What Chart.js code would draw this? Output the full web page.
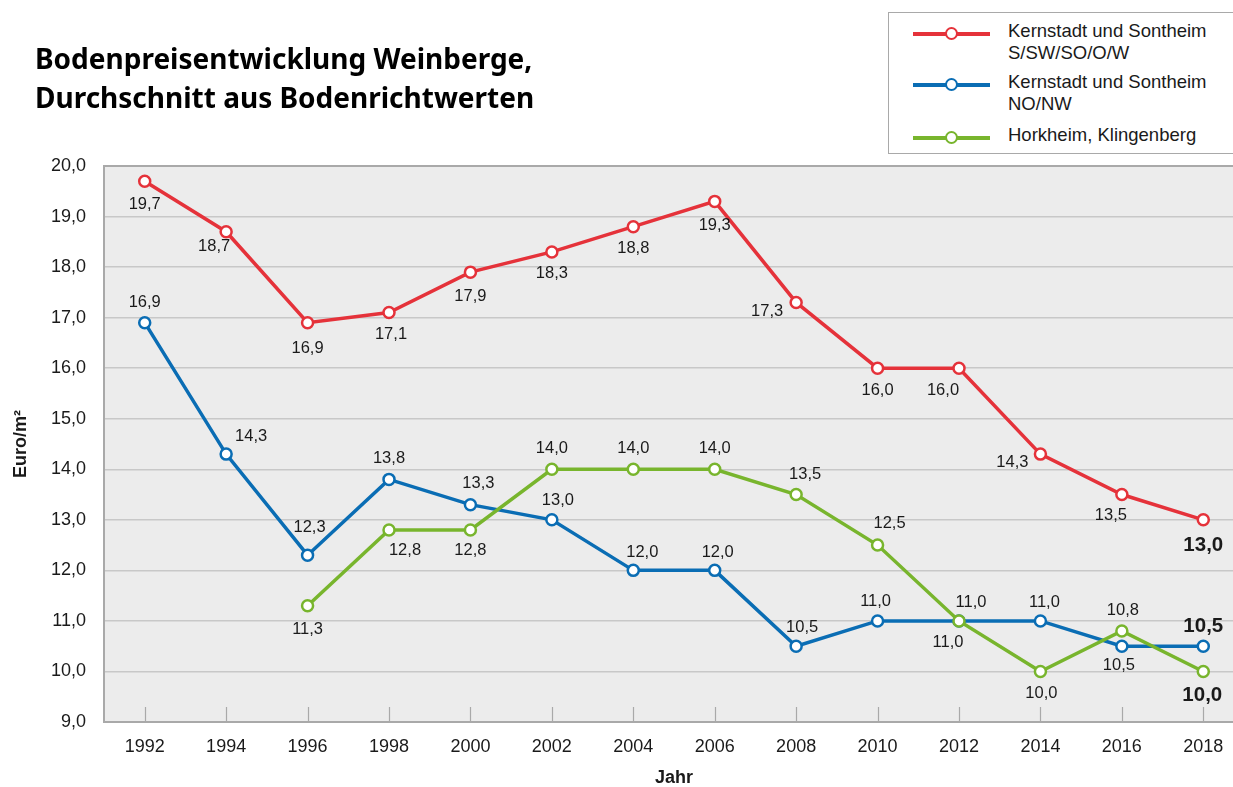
<!DOCTYPE html>
<html lang="de">
<head>
<meta charset="utf-8">
<title>Bodenpreisentwicklung Weinberge</title>
<script src="https://cdn.jsdelivr.net/npm/chart.js@4.4.1/dist/chart.umd.min.js"></script>
<style>
  html, body { margin: 0; padding: 0; background: #fff; overflow: hidden; }
  #wrap { position: relative; width: 1233px; height: 787px; overflow: hidden; }
  #myChart { position: absolute; left: 0; top: 0; }
  #title {
    position: absolute; left: 35px; top: 39px;
    font-family: "Noto Sans", sans-serif; font-weight: 700; font-size: 28px;
    line-height: 39px; color: #000; white-space: nowrap;
  }
  #legend {
    position: absolute; left: 888px; top: 12px; width: 360px; height: 142px;
    border: 1.5px solid #a9a9a9; box-sizing: border-box; background: #fff;
    font-family: "Liberation Sans", Arial, sans-serif; font-size: 18.5px; color: #1a1a1a;
  }
  .item { position: absolute; left: 0; }
  .swatch { position: absolute; left: 24px; width: 77px; height: 4px; }
  .dot {
    position: absolute; top: -5px; width: 9px; height: 9px;
    border-radius: 50%; background: #fff; border: 2.5px solid;
  }
  .txt { position: absolute; left: 119px; line-height: 22px; white-space: nowrap; }
</style>
</head>
<body>
<div id="wrap">
  <canvas id="myChart" width="1252" height="787"></canvas>
  <div id="title">Bodenpreisentwicklung Weinberge,<br>Durchschnitt aus Bodenrichtwerten</div>
  <div id="legend"></div>
</div>
<script>
const years = ["1992", "1994", "1996", "1998", "2000", "2002", "2004", "2006",
  "2008", "2010", "2012", "2014", "2016", "2018"];

const seriesNames = [
  ["Kernstadt und Sontheim", "S/SW/SO/O/W"],
  ["Kernstadt und Sontheim", "NO/NW"],
  ["Horkheim, Klingenberg"],
];

const suedValues = [19.7, 18.7, 16.9, 17.1, 17.9, 18.3, 18.8, 19.3, 17.3, 16.0, 16.0, 14.3, 13.5, 13.0];
const nordValues = [16.9, 14.3, 12.3, 13.8, 13.3, 13.0, 12.0, 12.0, 10.5, 11.0, 11.0, 11.0, 10.5, 10.5];
const horkheimValues = [null, null, 11.3, 12.8, 12.8, 14.0, 14.0, 14.0, 13.5, 12.5, 11.0, 10.0, 10.8, 10.0];

const yTicks = [9, 10, 11, 12, 13, 14, 15, 16, 17, 18, 19, 20];

// label placement (offset from point, px) - styling only
const suedLabelOffsets = [[0, 23], [-12, 15], [0, 26], [2, 22], [0, 24], [0, 22], [0, 22], [0, 24],
  [-29, 9], [0, 22], [-16, 22], [-28, 8], [-11, 21], [0, 25]];
const nordLabelOffsets = [[0, -20], [25, -18], [2, -28], [0, -21], [8, -21], [6, -19], [9, -18], [3, -18],
  [6, -19], [-2, -19], [12, -18], [4, -18], [-3, 19], [0, -21]];
const horkheimLabelOffsets = [null, null, [0, 24], [16, 21], [0, 21], [0, -21], [0, -21], [0, -21],
  [9, -20], [12, -22], [-11, 22], [1, 22], [1, -21], [-1, 23]];

const colors = ["#e5323a", "#0a6db4", "#78b52d"];

const fmt = (v) => v.toFixed(1).replace(".", ",");
const FONT = "'Liberation Sans', Arial, sans-serif";

const chartBackground = {
  id: "chartBackground",
  beforeDraw(chart) {
    const { ctx, chartArea: a } = chart;
    ctx.save();
    ctx.fillStyle = "#ececec";
    ctx.fillRect(a.left, a.top, a.right - a.left, a.bottom - a.top);
    ctx.restore();
  },
  beforeDatasetsDraw(chart) {
    const { ctx, chartArea: a } = chart;
    const xs = chart.scales.x;
    ctx.save();
    ctx.strokeStyle = "#a9a9a9";
    ctx.lineWidth = 1.2;
    xs.ticks.forEach((t, i) => {
      const x = Math.round(xs.getPixelForTick(i)) + 0.5;
      ctx.beginPath();
      ctx.moveTo(x, a.bottom);
      ctx.lineTo(x, a.bottom - 15);
      ctx.stroke();
    });
    ctx.restore();
  },
};

const valueLabels = {
  id: "valueLabels",
  afterDatasetsDraw(chart) {
    const { ctx } = chart;
    ctx.save();
    ctx.textAlign = "center";
    ctx.textBaseline = "middle";
    ctx.fillStyle = "#1a1a1a";
    chart.data.datasets.forEach((ds, di) => {
      const meta = chart.getDatasetMeta(di);
      meta.data.forEach((pt, i) => {
        const v = ds.data[i];
        if (v === null || v === undefined) return;
        const off = ds.labelOffsets[i];
        const last = i === ds.data.length - 1;
        ctx.font = last ? "bold 20.5px " + FONT : "16.5px " + FONT;
        ctx.fillText(fmt(v), pt.x + off[0], pt.y + off[1] + (last ? 1 : 0));
      });
    });
    ctx.restore();
  },
};

const makeDataset = (idx, values, offsets, order) => ({
  label: seriesNames[idx].join(" "),
  data: values,
  labelOffsets: offsets,
  order: order,
  borderColor: colors[idx],
  backgroundColor: colors[idx],
  pointBackgroundColor: "#fff",
  pointBorderColor: colors[idx],
  pointBorderWidth: 2.5,
  pointRadius: 5.5,
  borderWidth: 3.5,
  tension: 0,
  spanGaps: false,
});

const elementChart = document.querySelector("#myChart");

const configChart = {
  type: "line",
  data: {
    labels: years,
    datasets: [
      makeDataset(0, suedValues, suedLabelOffsets, 2),
      makeDataset(1, nordValues, nordLabelOffsets, 1),
      makeDataset(2, horkheimValues, horkheimLabelOffsets, 0),
    ],
  },
  options: {
    responsive: false,
    animation: false,
    layout: { padding: { top: 166, right: 3, left: 0, bottom: 0 } },
    plugins: {
      legend: { display: false },
      tooltip: { enabled: false },
    },
    scales: {
      x: {
        offset: true,
        grid: { display: false, drawTicks: false },
        border: { display: true, color: "#a9a9a9", width: 2 },
        ticks: {
          color: "#1a1a1a",
          padding: 14,
          maxRotation: 0,
          font: { family: FONT, size: 18 },
        },
        title: {
          display: true,
          text: "Jahr",
          color: "#1a1a1a",
          padding: { top: 0, bottom: -2 },
          font: { family: FONT, size: 18, weight: "bold" },
        },
        afterFit: (scale) => { scale.height = 65; },
      },
      y: {
        min: 9,
        max: 20,
        afterBuildTicks: (scale) => { scale.ticks = yTicks.map((v) => ({ value: v })); },
        grid: {
          drawTicks: false,
          color: (c) => (c.tick && c.tick.value === 20 ? "#a9a9a9" : "#c8c8c8"),
          lineWidth: (c) => (c.tick && c.tick.value === 20 ? 2 : 1.5),
        },
        border: { display: true, color: "#a9a9a9", width: 2 },
        ticks: {
          color: "#1a1a1a",
          padding: 18,
          callback: (v) => fmt(v),
          font: { family: FONT, size: 18 },
        },
        title: {
          display: true,
          text: "Euro/m²",
          color: "#1a1a1a",
          padding: { top: 10, bottom: 10 },
          font: { family: FONT, size: 18, weight: "bold" },
        },
        afterFit: (scale) => { scale.width = 104; },
      },
    },
  },
  plugins: [chartBackground, valueLabels],
};

const myChart = new Chart(elementChart, configChart);

// legend built from the dataset names and colours
const legendEl = document.querySelector("#legend");
const rowTops = [19, 70, 123];
seriesNames.forEach((lines, i) => {
  const item = document.createElement("div");
  item.className = "item";
  item.style.top = rowTops[i] + "px";
  item.innerHTML =
    '<div class="swatch" style="background:' + colors[i] + '">' +
    '<div class="dot" style="border-color:' + colors[i] + '; left:32px"></div></div>' +
    '<div class="txt" style="top:-12px">' + lines.join("<br>") + "</div>";
  legendEl.appendChild(item);
});
</script>
</body>
</html>
